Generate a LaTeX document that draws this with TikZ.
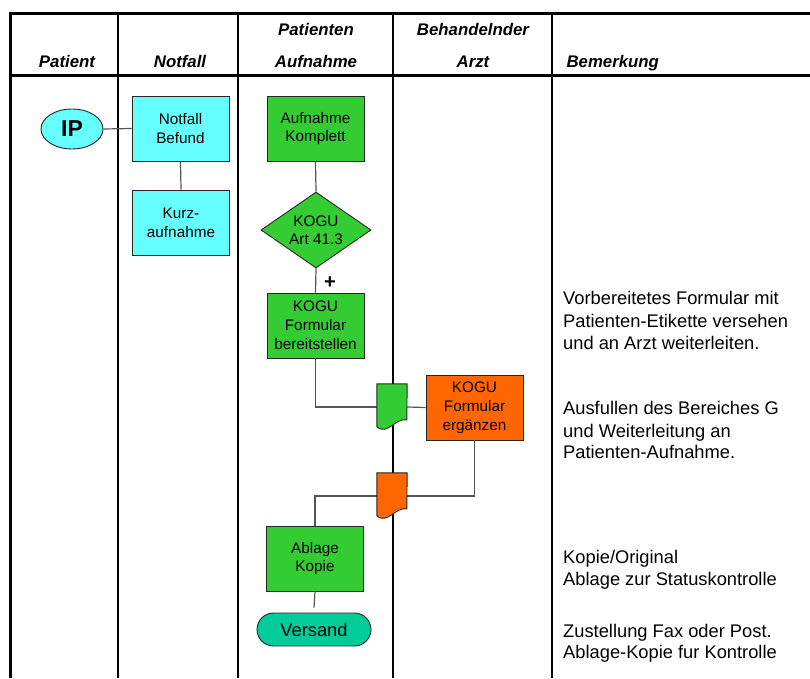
\documentclass[tikz,border=0pt]{standalone}
\usepackage{fontspec}
\setmainfont{Liberation Sans}
\usetikzlibrary{shapes.geometric}
\definecolor{cyanbox}{HTML}{66FFFF}
\definecolor{greenbox}{HTML}{33CC33}
\definecolor{orangebox}{HTML}{FF6600}
\definecolor{tealbox}{HTML}{00CC99}
\definecolor{conn}{HTML}{555555}
\newcommand\docpath[2]{%
  \draw[docline, fill=#2] (#1.north west) -- (#1.north east)
    -- ([shift={(30,36)}]#1.north west)
    .. controls ([shift={(18,34)}]#1.north west) and ([shift={(11,52)}]#1.north west) ..
    ([shift={(0,43)}]#1.north west) -- cycle;}
\begin{document}
\begin{tikzpicture}[x=1pt,y=-1pt,
  box/.style={draw=black!85, line width=0.9pt, minimum width=97pt, minimum height=65pt,
    inner sep=0pt, align=center, font=\fontsize{15.3}{18.8}\selectfont},
  hdr/.style={anchor=base, font=\fontsize{16.8}{20}\selectfont\bfseries\itshape},
  rem/.style={anchor=base west, inner sep=0pt, font=\fontsize{18.3}{22}\selectfont},
  docnode/.style={minimum width=30pt, minimum height=46pt, inner sep=0pt, draw=none},
  docline/.style={draw=black!85, line width=0.9pt},
  cline/.style={draw=conn, line width=1.2pt},
  frame/.style={line width=3.4pt, line join=miter},
  col/.style={line width=2pt}]
\useasboundingbox (0,0) rectangle (810,678);

% table frame
\draw[frame] (10.5,678) -- (10.5,13.3) -- (812,13.3);
\draw[line width=3pt] (10.5,75.7) -- (812,75.7);
\foreach \cx in {118.3,238.3,392.5,551.5} \draw[col] (\cx,13.3) -- (\cx,678);

% headers
\node[hdr] (hpat) at (67,67) {Patient};
\node[hdr] (hnot) at (180,67) {Notfall};
\node[hdr] (hpa1) at (316,35) {Patienten};
\node[hdr] (hpa2) at (316,67) {Aufnahme};
\node[hdr] (hba1) at (473,35) {Behandelnder};
\node[hdr] (hba2) at (473,67) {Arzt};
\node[hdr, anchor=base west] (hbem) at (563,67) {Bemerkung};

% nodes
\node[ellipse, draw=black!85, line width=0.9pt, fill=cyanbox, minimum width=62pt, minimum height=40pt,
  inner sep=0pt, font=\fontsize{23}{26}\selectfont\bfseries] (ip) at (72,129) {IP};
\node[box, fill=cyanbox] (nb) at (180.5,128.5) {Notfall\\Befund};
\node[box, fill=cyanbox] (ka) at (181,222.5) {Kurz-\\aufnahme};
\node[box, fill=greenbox] (ak) at (315.5,128.5) {Aufnahme\\Komplett};
\node[diamond, draw=black!85, line width=0.9pt, fill=greenbox, aspect=1.45, inner sep=0pt,
  minimum width=110pt, minimum height=76pt, align=center, font=\fontsize{15.3}{18}\selectfont] (dk) at (316,230) {KOGU\\Art 41.3};
\node[box, fill=greenbox] (kf) at (315.5,325.5) {KOGU\\Formular\\bereitstellen};
\node[box, fill=orangebox] (ok) at (474.5,407.5) {KOGU\\Formular\\ergänzen};
\node[box, fill=greenbox] (ab) at (315,558.5) {Ablage\\Kopie};
\node[draw=black!85, line width=0.9pt, fill=tealbox, rounded corners=16.5pt, minimum width=114pt,
  minimum height=33pt, inner sep=0pt, font=\fontsize{18.3}{22}\selectfont] (vs) at (314,629.5) {Versand};
\node[docnode] (d1) at (392,407) {};
\node[docnode] (d2) at (392,496) {};
\node[font=\fontsize{20}{22}\selectfont\bfseries, inner sep=0pt] (plus) at (330,283) {+};

% connectors
\draw[cline] (ip.east) -- (nb.west);
\draw[cline] (nb.south) -- (ka.north);
\draw[cline] (ak.south) -- (dk.north);
\draw[cline] (dk.south) -- (kf.north);
\draw[cline] (kf.south) |- (d1.west);
\draw[cline] (d1.east) -- (ok.west);
\draw[cline] (ok.south) |- (d2.east);
\draw[cline] (d2.west) -| (ab.north);
\draw[cline] (ab.south) -- ([yshift=5pt]vs.north);

% documents
\docpath{d1}{greenbox}
\docpath{d2}{orangebox}

% remarks
\node[rem] (r1a) at (563,304) {Vorbereitetes Formular mit};
\node[rem] (r1b) at (563,327) {Patienten-Etikette versehen};
\node[rem] (r1c) at (563,349) {und an Arzt weiterleiten.};
\node[rem] (r2a) at (563,414) {Ausfullen des Bereiches G};
\node[rem] (r2b) at (563,437) {und Weiterleitung an};
\node[rem] (r2c) at (563,458) {Patienten-Aufnahme.};
\node[rem] (r3a) at (563,563) {Kopie/Original};
\node[rem] (r3b) at (563,585) {Ablage zur Statuskontrolle};
\node[rem] (r4a) at (563,637) {Zustellung Fax oder Post.};
\node[rem] (r4b) at (563,658) {Ablage-Kopie fur Kontrolle};
\end{tikzpicture}
\end{document}
